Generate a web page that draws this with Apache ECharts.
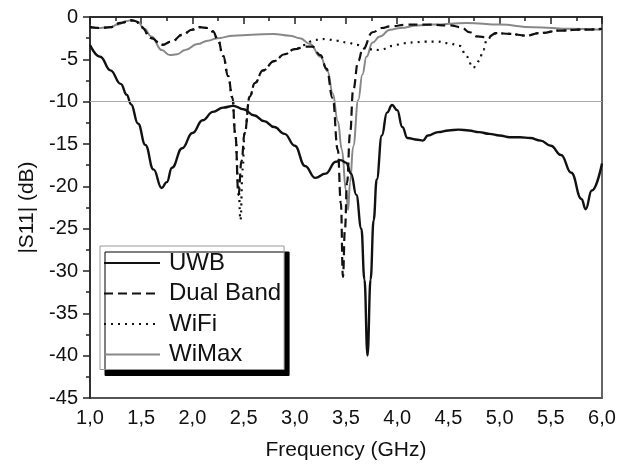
<!DOCTYPE html>
<html>
<head>
<meta charset="utf-8">
<script src="https://cdn.jsdelivr.net/npm/echarts@6/dist/echarts.min.js"></script>
<style>html,body{margin:0;padding:0;background:#fff;}#c{width:627px;height:466px;}</style>
</head>
<body>
<div id="c"></div>
<script>
// ---- data (frequency in GHz, |S11| in dB) ----
const uwbFreq = [1.0,1.1,1.2,1.3,1.36,1.4,1.47,1.54,1.62,1.7,1.75,1.8,1.9,2.0,2.1,2.2,2.3,2.4,2.5,2.6,2.7,2.8,2.9,3.0,3.1,3.2,3.3,3.4,3.45,3.5,3.55,3.6,3.65,3.68,3.71,3.74,3.77,3.8,3.85,3.9,3.95,4.0,4.05,4.1,4.2,4.25,4.3,4.4,4.5,4.6,4.7,4.8,4.9,5.0,5.1,5.2,5.3,5.4,5.5,5.6,5.7,5.8,5.84,5.9,6.0];
const uwbS11  = [-3.3,-4.7,-6.3,-7.9,-9.2,-10.3,-12.6,-15.1,-18.0,-20.2,-19.5,-17.8,-15.5,-13.7,-12.2,-11.2,-10.7,-10.5,-10.9,-11.6,-12.3,-13.0,-13.8,-15.2,-17.6,-19.0,-18.5,-17.1,-16.9,-17.2,-18.5,-21.0,-25.0,-31.0,-40.0,-31.0,-24.0,-19.2,-14.0,-11.3,-10.4,-11.0,-13.0,-14.3,-14.5,-14.6,-14.0,-13.6,-13.4,-13.3,-13.4,-13.6,-13.8,-14.0,-14.2,-14.2,-14.3,-14.6,-15.2,-16.3,-18.4,-21.5,-22.7,-20.5,-17.3];

const dualFreq = [1.0,1.1,1.2,1.3,1.4,1.45,1.5,1.6,1.7,1.8,1.9,2.0,2.07,2.15,2.2,2.25,2.3,2.35,2.39,2.42,2.45,2.48,2.51,2.56,2.61,2.69,2.8,2.9,3.0,3.1,3.17,3.25,3.31,3.37,3.42,3.45,3.47,3.49,3.51,3.54,3.57,3.62,3.66,3.76,3.85,3.93,4.1,4.3,4.52,4.62,4.71,4.78,4.88,4.97,5.1,5.26,5.39,5.59,5.78,6.0];
const dualS11  = [-1.2,-1.3,-1.2,-0.7,-0.4,-0.5,-1.2,-2.5,-3.3,-2.9,-2.1,-1.5,-1.2,-1.3,-1.7,-2.7,-4.6,-7.0,-9.5,-14.0,-21.0,-17.0,-13.7,-9.4,-7.8,-6.3,-5.2,-4.4,-3.8,-3.5,-3.5,-4.5,-6.1,-9.6,-15.7,-22.0,-30.7,-25.0,-19.6,-13.7,-8.6,-5.2,-3.9,-1.8,-1.3,-1.1,-0.9,-0.9,-1.0,-1.2,-1.8,-2.3,-2.4,-1.9,-2.0,-2.2,-1.9,-1.6,-1.5,-1.4];

const wifiFreq = [1.0,1.1,1.2,1.3,1.4,1.45,1.5,1.6,1.7,1.8,1.9,2.0,2.07,2.15,2.2,2.25,2.3,2.35,2.39,2.42,2.45,2.47,2.49,2.51,2.56,2.61,2.69,2.8,2.9,3.0,3.1,3.15,3.2,3.3,3.41,3.51,3.61,3.7,3.83,3.96,4.06,4.16,4.27,4.39,4.5,4.61,4.68,4.74,4.8,4.84,4.88,4.97,5.1,5.26,5.39,5.59,5.78,6.0];
const wifiS11  = [-1.2,-1.3,-1.2,-0.7,-0.4,-0.5,-1.2,-2.5,-3.3,-2.9,-2.1,-1.5,-1.2,-1.3,-1.7,-2.7,-4.6,-7.0,-9.5,-14.0,-20.0,-24.0,-18.0,-13.7,-9.4,-7.8,-6.3,-5.2,-4.4,-3.8,-3.3,-2.9,-2.7,-2.6,-2.8,-3.0,-3.3,-3.8,-3.9,-3.4,-3.1,-3.0,-2.9,-2.9,-3.1,-3.4,-4.7,-6.0,-5.2,-3.9,-2.5,-1.9,-2.0,-2.2,-1.9,-1.6,-1.5,-1.4];

const wimaxFreq = [1.0,1.1,1.2,1.27,1.35,1.41,1.47,1.53,1.6,1.7,1.78,1.85,1.93,2.05,2.15,2.25,2.4,2.58,2.79,2.95,3.05,3.15,3.25,3.32,3.37,3.42,3.46,3.5,3.52,3.54,3.57,3.62,3.66,3.7,3.76,3.83,3.93,4.03,4.2,4.35,4.68,5.0,5.33,5.7,6.0];
const wimaxS11  = [-1.2,-1.3,-1.2,-0.9,-0.5,-0.35,-0.6,-1.4,-2.3,-3.9,-4.5,-4.4,-3.9,-3.2,-2.8,-2.5,-2.2,-2.1,-2.0,-2.2,-2.5,-3.2,-4.7,-6.4,-9.0,-12.3,-15.7,-20.5,-22.8,-19.5,-15.3,-9.8,-6.8,-4.7,-3.0,-2.3,-1.5,-1.3,-1.0,-0.9,-0.7,-0.9,-1.2,-1.4,-1.5];

const seriesNames = ['UWB','Dual Band','WiFi','WiMax'];
const xTicks = {min:1.0, max:6.0, step:0.5};
const yTicks = {min:-45, max:0, step:5};
const threshold = -10;

function zip(a,b){return a.map((v,i)=>[v,b[i]]);}

const FONT = 'Liberation Sans, Arial, sans-serif';
const chart = echarts.init(document.getElementById('c'), null, {renderer:'canvas'});

function lineSeries(name, data, color, width, type, z, extra){
  return Object.assign({
    name, type:'line', data, symbol:'none', showSymbol:false,
    smooth:0.45, smoothMonotone:'x', z,
    lineStyle:{color, width, type},
    itemStyle:{color}
  }, extra||{});
}

chart.setOption({
  animation:false,
  backgroundColor:'#fff',
  textStyle:{fontFamily:FONT},
  grid:{left:90, right:25, top:17, bottom:68, show:true, borderColor:'#555', borderWidth:1.8, backgroundColor:'transparent'},
  legend:{
    orient:'vertical', left:100, top:246,
    padding:[5,3,3,3], itemGap:6.5, itemWidth:56, itemHeight:14,
    backgroundColor:'#fff', borderColor:'#999', borderWidth:1,
    shadowColor:'#000', shadowBlur:0, shadowOffsetX:5, shadowOffsetY:6,
    itemStyle:{opacity:0},
    textStyle:{fontSize:24, color:'#111', fontFamily:FONT, padding:[0,0,0,4]},
    data:seriesNames
  },
  xAxis:{
    type:'value', min:xTicks.min, max:xTicks.max, interval:xTicks.step,
    name:'Frequency (GHz)', nameLocation:'middle', nameGap:42,
    nameTextStyle:{fontSize:21, color:'#111', fontFamily:FONT},
    axisLine:{lineStyle:{color:'#222', width:1.5}},
    axisTick:{show:true, length:7, lineStyle:{color:'#222', width:1.5}},
    minorTick:{show:true, splitNumber:2, length:4, lineStyle:{color:'#222', width:1.5}},
    splitLine:{show:false},
    axisLabel:{fontSize:20, color:'#111', margin:10, fontFamily:FONT,
      formatter:v=>v.toFixed(1).replace('.', ',')}
  },
  yAxis:{
    type:'value', min:yTicks.min, max:yTicks.max, interval:yTicks.step,
    name:'|S11| (dB)', nameLocation:'middle', nameGap:52,
    nameTextStyle:{fontSize:21, color:'#111', fontFamily:FONT},
    axisLine:{lineStyle:{color:'#222', width:1.5}},
    axisTick:{show:true, length:7, lineStyle:{color:'#222', width:1.5}},
    minorTick:{show:true, splitNumber:2, length:4, lineStyle:{color:'#222', width:1.5}},
    splitLine:{show:false},
    axisLabel:{fontSize:20, color:'#111', margin:12, fontFamily:FONT}
  },
  series:[
    lineSeries('UWB', zip(uwbFreq,uwbS11), '#111', 2.4, 'solid', 4, {
      markLine:{silent:true, symbol:'none', label:{show:false},
        lineStyle:{color:'#aaa', width:1, type:'solid'},
        data:[{yAxis:threshold}]}
    }),
    lineSeries('Dual Band', zip(dualFreq,dualS11), '#111', 2.2, [9,5], 3),
    lineSeries('WiFi', zip(wifiFreq,wifiS11), '#111', 2.2, [2,5], 2),
    lineSeries('WiMax', zip(wimaxFreq,wimaxS11), '#888', 2, 'solid', 1)
  ]
});
</script>
</body>
</html>
